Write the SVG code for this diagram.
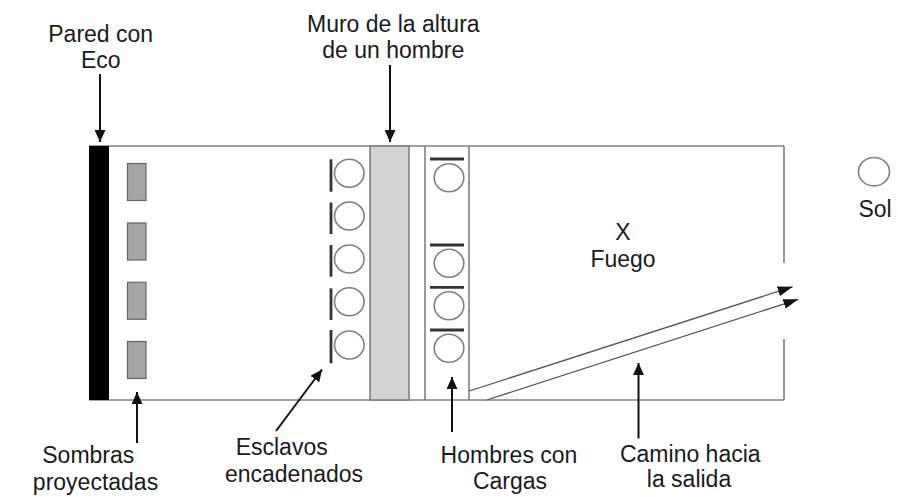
<svg xmlns="http://www.w3.org/2000/svg" width="898" height="497" viewBox="0 0 898 497">
<style>
.lbl{font-family:"Liberation Sans",Arial,sans-serif;font-size:23px;fill:#1a1a1a;text-anchor:middle}
.box{fill:none;stroke:#808080;stroke-width:1.6}
.man{fill:#fff;stroke:#808080;stroke-width:1.6}
.bar{stroke:#333;stroke-width:2.8}
.shadow{fill:#a6a6a6;stroke:#666;stroke-width:1.2}
.ptr{stroke:#111;stroke-width:2;fill:none}
.path{stroke:#555;stroke-width:1.3;fill:none}
</style>
<defs>
<marker id="ah" markerUnits="userSpaceOnUse" markerWidth="12" markerHeight="11" refX="12" refY="5.5" orient="auto">
<path d="M0,0 L12,5.5 L0,11 z" fill="#111"/>
</marker>
<marker id="ah2" markerUnits="userSpaceOnUse" markerWidth="15" markerHeight="10" refX="15" refY="5" orient="auto">
<path d="M0,0 L15,5 L0,10 z" fill="#111"/>
</marker>
</defs>
<rect width="898" height="497" fill="#fff"/>

<g id="cave">
<line class="box" x1="89" y1="146" x2="784" y2="146"/>
<line class="box" x1="89" y1="400" x2="784" y2="400"/>
<line class="box" x1="425" y1="146" x2="425" y2="400"/>
<line class="box" x1="469" y1="146" x2="469" y2="400"/>
<line class="box" x1="784" y1="146" x2="784" y2="263"/>
<line class="box" x1="784" y1="339" x2="784" y2="400"/>
</g>

<g id="wall-echo">
<rect x="89" y="146" width="20" height="254" fill="#000"/>
</g>

<g id="shadows">
<rect class="shadow" x="127.5" y="163.5" width="18.5" height="37"/>
<rect class="shadow" x="127.5" y="223" width="18.5" height="37"/>
<rect class="shadow" x="127.5" y="282.3" width="18.5" height="37"/>
<rect class="shadow" x="127.5" y="341.5" width="18.5" height="37"/>
</g>

<g id="muro">
<rect x="370" y="146" width="39" height="254" fill="#d3d3d3" stroke="#808080" stroke-width="1.6"/>
</g>

<g id="slaves">
<line class="bar" x1="331" y1="159.3" x2="331" y2="191.7"/>
<line class="bar" x1="331" y1="202.5" x2="331" y2="234"/>
<line class="bar" x1="331" y1="245" x2="331" y2="276.7"/>
<line class="bar" x1="331" y1="288.3" x2="331" y2="320"/>
<line class="bar" x1="331" y1="330" x2="331" y2="363.3"/>
<ellipse class="man" cx="349.3" cy="173.3" rx="14.8" ry="14"/>
<ellipse class="man" cx="349.3" cy="216" rx="14.8" ry="14"/>
<ellipse class="man" cx="349.3" cy="259" rx="14.8" ry="14"/>
<ellipse class="man" cx="349.3" cy="301.7" rx="14.8" ry="14"/>
<ellipse class="man" cx="349.3" cy="345" rx="14.8" ry="14"/>
</g>

<g id="carriers">
<line class="bar" x1="430" y1="159" x2="464" y2="159"/>
<line class="bar" x1="430" y1="245" x2="464" y2="245"/>
<line class="bar" x1="430" y1="287.3" x2="464" y2="287.3"/>
<line class="bar" x1="430" y1="330" x2="464" y2="330"/>
<ellipse class="man" cx="449" cy="177.7" rx="14.8" ry="14"/>
<ellipse class="man" cx="449" cy="263.3" rx="14.8" ry="14"/>
<ellipse class="man" cx="449" cy="305.7" rx="14.8" ry="14"/>
<ellipse class="man" cx="449" cy="348.3" rx="14.8" ry="14"/>
</g>

<g id="fuego">
<text class="lbl" x="623" y="239.5">X</text>
<text class="lbl" x="623" y="266.7">Fuego</text>
</g>

<g id="sol">
<ellipse class="man" cx="874" cy="171.7" rx="15.5" ry="14.2"/>
<text class="lbl" x="875" y="217.3">Sol</text>
</g>

<g id="labels">
<text class="lbl" x="100.7" y="42.3">Pared con</text>
<text class="lbl" x="100.8" y="68.3">Eco</text>
<text class="lbl" x="393.3" y="31.7">Muro de la altura</text>
<text class="lbl" x="393.3" y="57.7">de un hombre</text>
<text class="lbl" x="88.3" y="463.3">Sombras</text>
<text class="lbl" x="95.5" y="489.5">proyectadas</text>
<text class="lbl" x="281.7" y="455">Esclavos</text>
<text class="lbl" x="294" y="481.7">encadenados</text>
<text class="lbl" x="509" y="462.5">Hombres con</text>
<text class="lbl" x="510" y="488.5">Cargas</text>
<text class="lbl" x="690.3" y="461.7">Camino hacia</text>
<text class="lbl" x="689" y="487.3">la salida</text>
</g>

<g id="connectors">
<line class="ptr" x1="100" y1="74" x2="100" y2="142" marker-end="url(#ah)"/>
<line class="ptr" x1="390" y1="65" x2="390" y2="142" marker-end="url(#ah)"/>
<line class="ptr" x1="137" y1="443" x2="137" y2="392" marker-end="url(#ah)"/>
<line class="ptr" x1="276" y1="431" x2="322" y2="369.5" marker-end="url(#ah)"/>
<line class="ptr" x1="452" y1="432" x2="452" y2="377" marker-end="url(#ah)"/>
<line class="ptr" x1="638.5" y1="438.5" x2="638.5" y2="363" marker-end="url(#ah)"/>
<line class="path" x1="469.3" y1="391" x2="792.7" y2="286.7" marker-end="url(#ah2)"/>
<line class="path" x1="486.7" y1="400" x2="798.3" y2="299.3" marker-end="url(#ah2)"/>
</g>
</svg>
